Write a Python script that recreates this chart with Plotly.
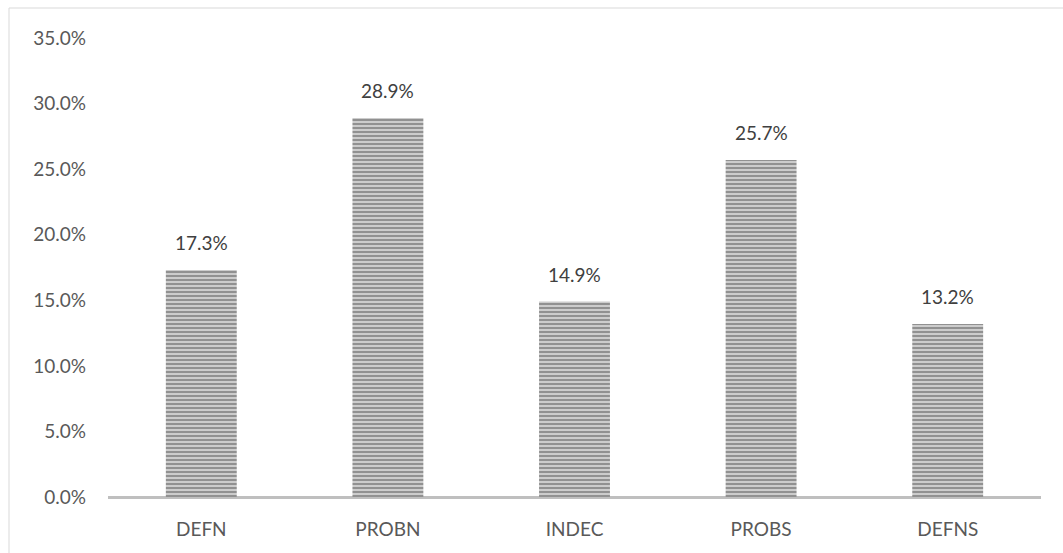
import plotly.graph_objects as go

categories = ["DEFN", "PROBN", "INDEC", "PROBS", "DEFNS"]
values = [17.3, 28.9, 14.9, 25.7, 13.2]
tick_vals = [0, 5, 10, 15, 20, 25, 30, 35]
tick_text = ["0.0%", "5.0%", "10.0%", "15.0%", "20.0%", "25.0%", "30.0%", "35.0%"]
label_text = [f"{v:.1f}%" for v in values]

FONT = "Lato"
FS = 19

fig = go.Figure()
fig.add_trace(go.Bar(
    x=categories,
    y=values,
    marker=dict(
        color="#cccccc",
        line=dict(width=0),
        pattern=dict(shape="-", size=4, solidity=0.5, fgcolor="#555555", bgcolor="#cccccc", fillmode="overlay"),
    ),
    hoverinfo="skip",
))

for c, v, t in zip(categories, values, label_text):
    fig.add_annotation(x=c, y=v, text=t, showarrow=False, yanchor="bottom", yshift=14,
                       font=dict(family=FONT, size=FS, color="#404040"))

L, R, T, B = 108, 22, 38, 56
W, H = 1063, 553
pw = W - L - R
ph = H - T - B
fig.add_shape(type="rect", xref="paper", yref="paper",
              x0=(9 - L) / pw, x1=(1075 - L) / pw,
              y0=-(565 - (H - B)) / ph, y1=1 + (T - 8) / ph,
              line=dict(color="#d9d9d9", width=1), fillcolor="rgba(0,0,0,0)", layer="below")

fig.update_layout(
    width=W, height=H,
    margin=dict(l=L, r=R, t=T, b=B),
    paper_bgcolor="white", plot_bgcolor="white",
    bargap=0.62,
    showlegend=False,
    font=dict(family=FONT, size=FS, color="#595959"),
    xaxis=dict(showgrid=False, showline=False, zeroline=False, ticks="",
               ticklabelstandoff=19, tickfont=dict(family=FONT, size=FS, color="#595959")),
    yaxis=dict(range=[0, 35], tickvals=tick_vals, ticktext=tick_text, showgrid=False,
               showline=False, zeroline=True, zerolinecolor="#bfbfbf", zerolinewidth=3,
               ticks="", ticklabelstandoff=21, tickfont=dict(family=FONT, size=FS, color="#595959")),
)

fig.write_html("out.html")
